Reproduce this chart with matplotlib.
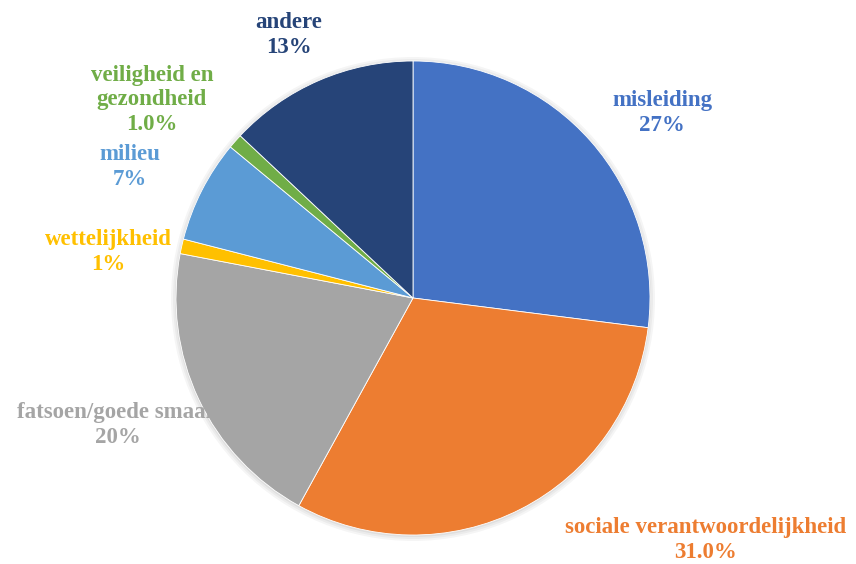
import matplotlib.pyplot as plt

categories = ['misleiding', 'sociale verantwoordelijkheid', 'fatsoen/goede smaak',
              'wettelijkheid', 'milieu', 'veiligheid en\ngezondheid', 'andere']
shares = [27, 31.0, 20, 1, 7, 1.0, 13]
share_labels = ['27%', '31.0%', '20%', '1%', '7%', '1.0%', '13%']
colors = ['#4472C4', '#ED7D31', '#A5A5A5', '#FFC000', '#5B9BD5', '#70AD47', '#264478']

# label anchor points (pixels from top-left)
label_pos = [(662, 113), (706, 540), (118, 425), (108, 252), (130, 167), (152, 100), (289, 35)]

W, H = 856, 564
fig = plt.figure(figsize=(W / 100, H / 100), dpi=100)
ax = fig.add_axes([0, 0, 1, 1])

cx, cy, r = 413, H - 298, 237

# soft shadow behind the pie
for i, a in enumerate([0.04, 0.04, 0.05]):
    shadow = plt.Circle((cx, cy - 1), r + 5 - i * 2, color='black', alpha=a, lw=0, zorder=0)
    ax.add_patch(shadow)

ax.pie(shares, colors=colors, startangle=90, counterclock=False,
       center=(cx, cy), radius=r, frame=True,
       wedgeprops=dict(linewidth=0.6, edgecolor='white'))
ax.set_xlim(0, W)
ax.set_ylim(0, H)
ax.set_aspect('equal')
ax.axis('off')

for name, pct, col, (x, y) in zip(categories, share_labels, colors, label_pos):
    ax.text(x, H - y, name + '\n' + pct, color=col, ha='center', va='center',
            fontsize=16.5, fontweight='bold', family='Liberation Serif',
            linespacing=1.2, zorder=5)

fig.savefig('out.png', dpi=100, facecolor='white')
